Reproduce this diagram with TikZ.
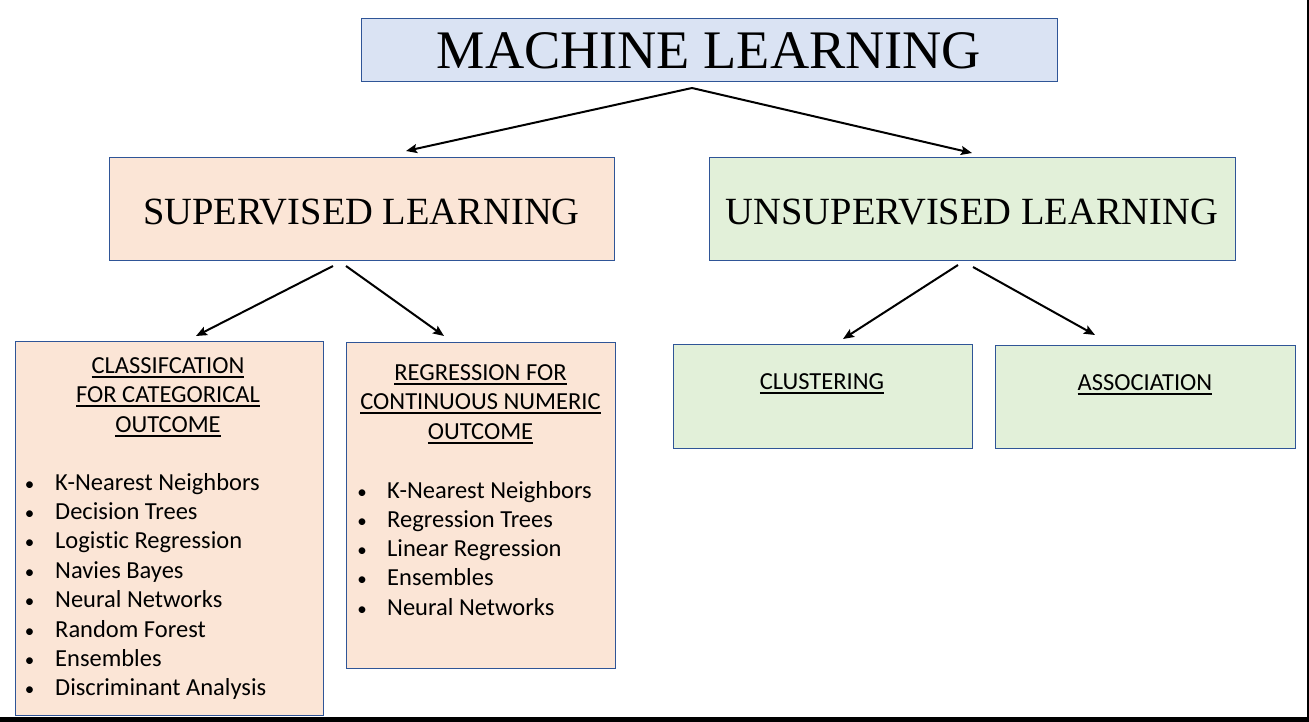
\documentclass[tikz,border=0pt]{standalone}
\usepackage{fontspec}
\setmainfont{Liberation Serif}
\newfontfamily\carlitofont[Ligatures=CommonOff]{Carlito}
\usetikzlibrary{arrows.meta}
\definecolor{bordc}{HTML}{2F5597}
\definecolor{mlfill}{HTML}{DAE3F3}
\definecolor{supfill}{HTML}{FBE5D6}
\definecolor{unsfill}{HTML}{E2F0D9}
\newcommand\myul[1]{\setbox0=\hbox{#1}\rlap{\rule[-4.8pt]{\wd0}{1.9pt}}\box0}
\tikzset{
  box/.style={draw=bordc, line width=0.9pt, inner sep=0pt, anchor=north west},
  conn/.style={-{Stealth[length=11pt,width=9pt,inset=2pt]}, line width=2pt, shorten >=0pt},
  head/.style={font=\carlitofont\fontsize{24.5}{28}\selectfont, anchor=base, inner sep=0pt},
  item/.style={font=\carlitofont\fontsize{24.5}{28}\selectfont, anchor=base west, inner sep=0pt},
  bul/.style={font=\carlitofont\fontsize{19}{22}\selectfont, anchor=base, inner sep=0pt},
}
\begin{document}
\begin{tikzpicture}[x=1pt,y=-1pt]
\useasboundingbox (0,0) rectangle (1309,722);
\fill[white] (0,0) rectangle (1309,722);
\fill[black] (1306.5,0) rectangle (1309,722);
\fill[black] (0,717) rectangle (1309,722);
% main boxes
\node[box, fill=mlfill, minimum width=696pt, minimum height=63pt] (ml) at (361,18) {};
\node[anchor=base, inner sep=0pt, font=\fontsize{54.3}{60}\selectfont] (mlt) at (709,69) {MACHINE LEARNING};
\node[box, fill=supfill, minimum width=505pt, minimum height=103pt] (sup) at (109,157) {};
\node[anchor=base, inner sep=0pt, font=\fontsize{38.5}{44}\selectfont] (supt) at (361.5,225) {SUPERVISED LEARNING};
\node[box, fill=unsfill, minimum width=526pt, minimum height=103pt] (uns) at (709,157) {};
\node[anchor=base, inner sep=0pt, font=\fontsize{38.5}{44}\selectfont] (unst) at (972,225) {UNSUPERVISED LEARNING};
% sub boxes
\node[box, fill=supfill, minimum width=308pt, minimum height=374pt] (cls) at (15,341) {};
\node[box, fill=supfill, minimum width=269pt, minimum height=326pt] (reg) at (346,342) {};
\node[box, fill=unsfill, minimum width=299pt, minimum height=104pt] (clu) at (673,344) {};
\node[box, fill=unsfill, minimum width=300pt, minimum height=103pt] (ass) at (995,345) {};
% headings
\node[head] (ch1) at (168,373) {\myul{CLASSIFCATION}};
\node[head] (ch2) at (168,402.5) {\myul{FOR CATEGORICAL}};
\node[head] (ch3) at (168,432) {\myul{OUTCOME}};
\node[head] (rh1) at (480.5,380) {\myul{REGRESSION FOR}};
\node[head] (rh2) at (480.5,409.5) {\myul{CONTINUOUS NUMERIC}};
\node[head] (rh3) at (480.5,439) {\myul{OUTCOME}};
\node[head] (cluh) at (822,389) {\myul{CLUSTERING}};
\node[head] (assh) at (1145,390) {\myul{ASSOCIATION}};
% lists
\foreach \t [count=\i] in {K-Nearest Neighbors, Decision Trees, Logistic Regression, Navies Bayes, Neural Networks, Random Forest, Ensembles, Discriminant Analysis}{
  \node[bul] (cb\i) at (29.5,{490+(\i-1)*29.4}) {\textbullet};
  \node[item] (ci\i) at (55,{490+(\i-1)*29.4}) {\t};
}
\foreach \t [count=\i] in {K-Nearest Neighbors, Regression Trees, Linear Regression, Ensembles, Neural Networks}{
  \node[bul] (rb\i) at (362,{498+(\i-1)*29.3}) {\textbullet};
  \node[item] (ri\i) at (387,{498+(\i-1)*29.3}) {\t};
}
% connector coordinates
\coordinate (mlo) at (692,88);
\coordinate (supin) at (406,151);
\coordinate (unsin) at (972,153);
\coordinate (supo1) at (333,266);
\coordinate (supo2) at (346,266);
\coordinate (clsin) at (196,336);
\coordinate (regin) at (444,336);
\coordinate (unso1) at (958,265);
\coordinate (unso2) at (973,267);
\coordinate (cluin) at (843,339);
\coordinate (assin) at (1095,335);
\draw[conn] (mlo) -- (supin);
\draw[conn] (mlo) -- (unsin);
\draw[conn] (supo1) -- (clsin);
\draw[conn] (supo2) -- (regin);
\draw[conn] (unso1) -- (cluin);
\draw[conn] (unso2) -- (assin);
\end{tikzpicture}
\end{document}
